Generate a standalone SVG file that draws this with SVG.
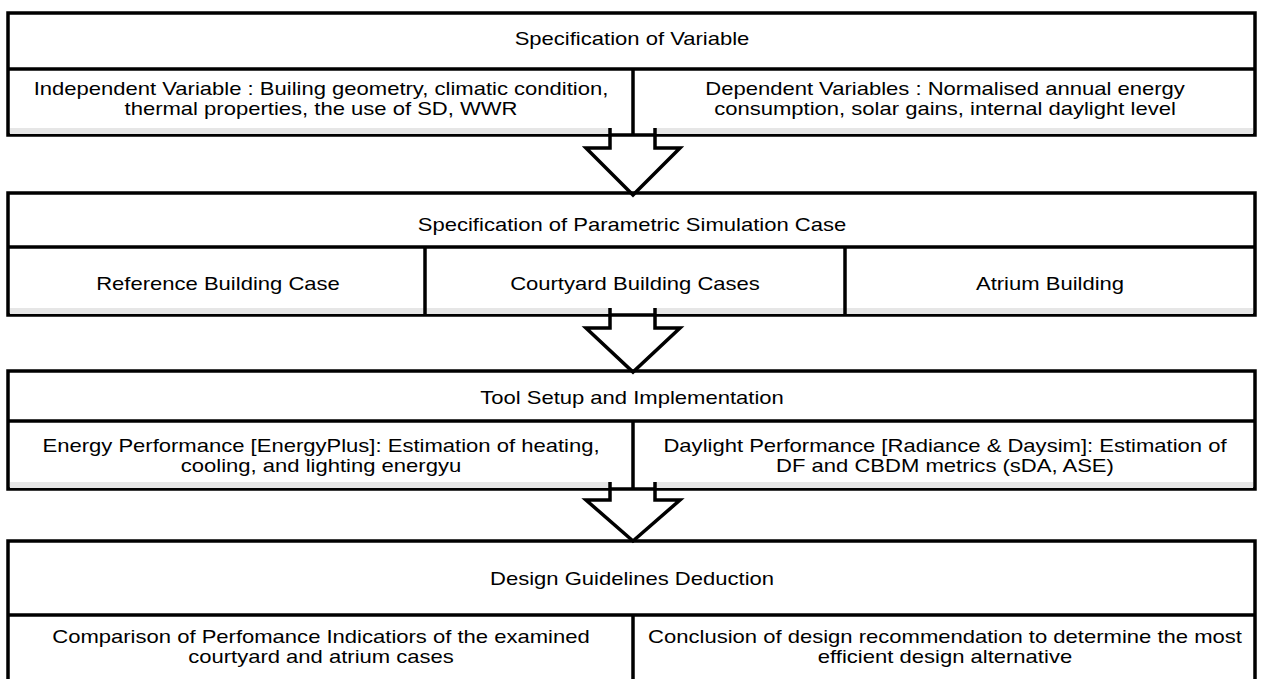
<svg xmlns="http://www.w3.org/2000/svg" width="1262" height="679" viewBox="0 0 1262 679">
<style>
.frame{fill:#fff;stroke:#000;stroke-width:3.5}
.ln{stroke:#000;stroke-width:3.5;fill:none}
.band{fill:#e6e6e6}
.t{font-family:"Liberation Sans",Arial,sans-serif;font-size:19px;fill:#000;text-anchor:middle}
.arrow{fill:none;stroke:#000;stroke-width:3.5;stroke-linejoin:miter}
</style>
<rect width="1262" height="679" fill="#fff"/>
<g id="box1">
<rect class="frame" x="8" y="13" width="1247" height="122"/>
<rect class="band" x="10" y="128" width="600" height="6"/>
<rect class="band" x="655" y="128" width="598" height="6"/>
<line class="ln" x1="8" y1="69" x2="1255" y2="69"/>
<line class="ln" x1="633" y1="69" x2="633" y2="135"/>
<text class="t" transform="translate(632,45) scale(1.16,1)">Specification of Variable</text>
<text class="t" transform="translate(321,95) scale(1.16,1)">Independent Variable : Builing geometry, climatic condition,</text>
<text class="t" transform="translate(321,115) scale(1.16,1)">thermal properties, the use of SD, WWR</text>
<text class="t" transform="translate(945,95) scale(1.16,1)">Dependent Variables : Normalised annual energy</text>
<text class="t" transform="translate(945,115) scale(1.16,1)">consumption, solar gains, internal daylight level</text>
</g>
<g id="box2">
<rect class="frame" x="8" y="193" width="1247" height="122"/>
<rect class="band" x="10" y="308" width="600" height="6"/>
<rect class="band" x="655" y="308" width="598" height="6"/>
<line class="ln" x1="8" y1="247" x2="1255" y2="247"/>
<line class="ln" x1="425" y1="247" x2="425" y2="315"/>
<line class="ln" x1="845" y1="247" x2="845" y2="315"/>
<text class="t" transform="translate(632,231) scale(1.16,1)">Specification of Parametric Simulation Case</text>
<text class="t" transform="translate(218,290) scale(1.16,1)">Reference Building Case</text>
<text class="t" transform="translate(635,290) scale(1.16,1)">Courtyard Building Cases</text>
<text class="t" transform="translate(1050,290) scale(1.16,1)">Atrium Building</text>
</g>
<g id="box3">
<rect class="frame" x="8" y="371" width="1247" height="118"/>
<rect class="band" x="10" y="482" width="600" height="6"/>
<rect class="band" x="655" y="482" width="598" height="6"/>
<line class="ln" x1="8" y1="421" x2="1255" y2="421"/>
<line class="ln" x1="633" y1="421" x2="633" y2="489"/>
<text class="t" transform="translate(632,404) scale(1.16,1)">Tool Setup and Implementation</text>
<text class="t" transform="translate(321,452) scale(1.16,1)">Energy Performance [EnergyPlus]: Estimation of heating,</text>
<text class="t" transform="translate(321,472) scale(1.16,1)">cooling, and lighting energyu</text>
<text class="t" transform="translate(945,452) scale(1.16,1)">Daylight Performance [Radiance &amp; Daysim]: Estimation of</text>
<text class="t" transform="translate(945,472) scale(1.16,1)">DF and CBDM metrics (sDA, ASE)</text>
</g>
<g id="box4">
<rect class="frame" x="8" y="541" width="1247" height="150"/>
<line class="ln" x1="8" y1="615" x2="1255" y2="615"/>
<line class="ln" x1="633" y1="615" x2="633" y2="679"/>
<text class="t" transform="translate(632,585) scale(1.16,1)">Design Guidelines Deduction</text>
<text class="t" transform="translate(321,643) scale(1.16,1)">Comparison of Perfomance Indicatiors of the examined</text>
<text class="t" transform="translate(321,663) scale(1.16,1)">courtyard and atrium cases</text>
<text class="t" transform="translate(945,643) scale(1.16,1)">Conclusion of design recommendation to determine the most</text>
<text class="t" transform="translate(945,663) scale(1.16,1)">efficient design alternative</text>
</g>
<g id="connectors">
<path class="arrow" d="M610,128 V148 H586 L633,195 L680,148 H655 V128"/>
<path class="arrow" d="M610,308 V328 H586 L633,372 L680,328 H655 V308"/>
<path class="arrow" d="M610,482 V500 H586 L633,541 L680,500 H655 V482"/>
</g>
</svg>
